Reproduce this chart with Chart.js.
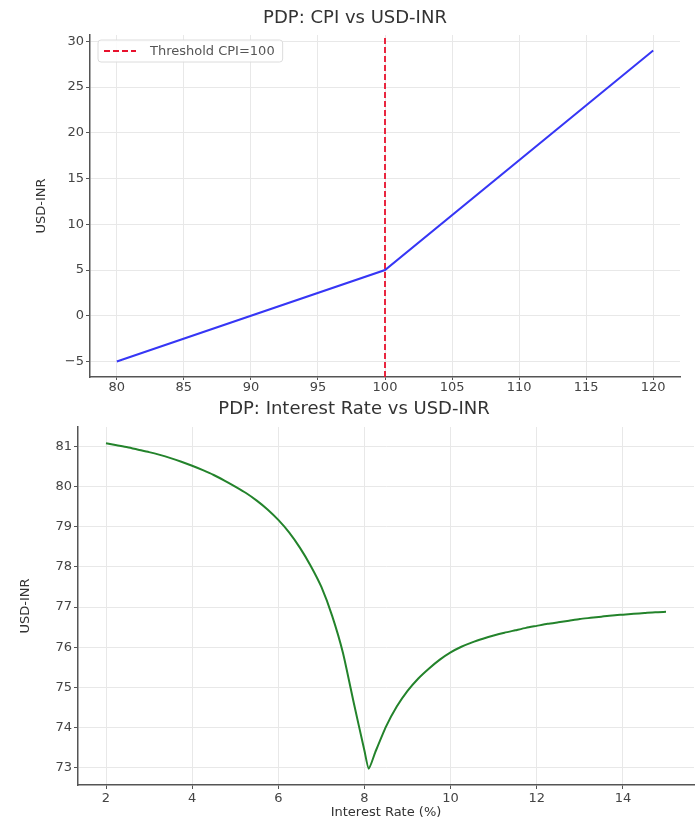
<!DOCTYPE html>
<html>
<head>
<meta charset="utf-8">
<script src="https://cdn.jsdelivr.net/npm/chart.js@4/dist/chart.umd.min.js"></script>
<style>
html,body{margin:0;padding:0;background:#fff;}
#wrap{position:relative;width:699px;height:821px;overflow:hidden;}
#c1{position:absolute;left:0;top:0;}
#c2{position:absolute;left:0;top:398px;}
</style>
</head>
<body>
<div id="wrap">
<canvas id="c1" width="699" height="398"></canvas>
<canvas id="c2" width="699" height="423"></canvas>
</div>
<script>
// ---------- DATA ----------
const cpiValues = [80, 100, 120];
const cpiUsdInr = [-5, 5, 29];
const cpiThreshold = 100;
const cpiXTicks = [80, 85, 90, 95, 100, 105, 110, 115, 120];
const cpiYTicks = [-5, 0, 5, 10, 15, 20, 25, 30];

const rateValues = [2.00, 2.25, 2.50, 2.75, 3.00, 3.25, 3.50, 3.75, 4.00, 4.25, 4.50, 4.75,
  5.00, 5.25, 5.50, 5.75, 6.00, 6.25, 6.50, 6.75, 7.00, 7.25, 7.50, 7.75, 8.00, 8.10,
  8.25, 8.50, 8.75, 9.00, 9.25, 9.50, 9.75, 10.00, 10.25, 10.50, 10.75, 11.00, 11.25,
  11.50, 11.75, 12.00, 12.25, 12.50, 12.75, 13.00, 13.25, 13.50, 13.75, 14.00, 14.25,
  14.50, 14.75, 15.00];
const rateUsdInr = [81.08, 81.03, 80.98, 80.92, 80.86, 80.79, 80.71, 80.62, 80.52, 80.41, 80.29, 80.15,
  80.00, 79.84, 79.65, 79.43, 79.17, 78.86, 78.48, 78.03, 77.50, 76.78, 75.86, 74.62, 73.42, 72.97,
  73.38, 74.02, 74.52, 74.91, 75.22, 75.47, 75.69, 75.87, 76.01, 76.12, 76.21, 76.29, 76.36,
  76.42, 76.48, 76.53, 76.58, 76.62, 76.66, 76.70, 76.73, 76.76, 76.79, 76.81, 76.83,
  76.85, 76.87, 76.88];
const rateXTicks = [2, 4, 6, 8, 10, 12, 14];
const rateYTicks = [73, 74, 75, 76, 77, 78, 79, 80, 81];

// ---------- HELPERS ----------
const FONT = "'DejaVu Sans', 'Liberation Sans', sans-serif";
function limits(arr) {
  const mn = Math.min(...arr), mx = Math.max(...arr), m = (mx - mn) * 0.05;
  return [mn - m, mx + m];
}
function axis(lim, ticks, extra) {
  return Object.assign({
    type: 'linear',
    min: lim[0], max: lim[1],
    afterBuildTicks: s => { s.ticks = ticks.map(v => ({ value: v })); },
    ticks: {
      font: { family: FONT, size: 13 }, color: '#444', autoSkip: false, maxRotation: 0, padding: 2,
      callback: v => String(v).replace('-', '\u2212')
    },
    grid: { color: '#e8e8e8', lineWidth: 1, tickColor: '#555', tickLength: 4 },
    border: { color: '#555', width: 1.5 }
  }, extra);
}

const boxLegend = {
  id: 'boxLegend',
  afterDatasetsDraw(chart) {
    const ds = chart.data.datasets[1];
    if (!ds) return;
    const ctx = chart.ctx, a = chart.chartArea;
    ctx.save();
    ctx.font = "13px " + FONT;
    const tw = ctx.measureText(ds.label).width;
    const x = a.left + 8, y = a.top + 5, h = 22, w = 52 + tw + 8;
    ctx.beginPath();
    ctx.roundRect(x, y, w, h, 3);
    ctx.fillStyle = 'rgba(255,255,255,0.85)';
    ctx.fill();
    ctx.strokeStyle = '#dcdcdc';
    ctx.lineWidth = 1;
    ctx.stroke();
    ctx.beginPath();
    ctx.setLineDash(ds.borderDash);
    ctx.strokeStyle = ds.borderColor;
    ctx.lineWidth = ds.borderWidth;
    ctx.moveTo(x + 6, y + h / 2);
    ctx.lineTo(x + 38, y + h / 2);
    ctx.stroke();
    ctx.setLineDash([]);
    ctx.fillStyle = '#555';
    ctx.textBaseline = 'middle';
    ctx.fillText(ds.label, x + 52, y + h / 2 + 0.5);
    ctx.restore();
  }
};

// ---------- CHART 1 ----------
const cpiXLim = limits(cpiValues);
const cpiYLim = limits(cpiUsdInr);
const xTop = axis(cpiXLim, cpiXTicks, { afterFit: s => { s.height = 21; } });
xTop.ticks.padding = 0;
xTop.grid.tickLength = 3;
new Chart(document.getElementById('c1'), {
  type: 'line',
  data: {
    datasets: [
      {
        label: 'PDP',
        data: cpiValues.map((x, i) => ({ x: x, y: cpiUsdInr[i] })),
        borderColor: '#3636f5', borderWidth: 2, pointRadius: 0, tension: 0, fill: false
      },
      {
        label: 'Threshold CPI=' + cpiThreshold,
        data: [{ x: cpiThreshold, y: cpiYLim[0] }, { x: cpiThreshold, y: cpiYLim[1] }],
        borderColor: '#e8112d', borderWidth: 1.8, borderDash: [6, 3], pointRadius: 0, fill: false
      }
    ]
  },
  options: {
    responsive: false, animation: false,
    layout: { padding: { left: 30, right: 19, top: 0, bottom: 0 } },
    plugins: {
      legend: { display: false }, tooltip: { enabled: false },
      title: {
        display: true, text: 'PDP: CPI vs USD-INR', color: '#333',
        font: { family: FONT, size: 18, weight: 'normal' }, padding: { top: 8, bottom: 5.4 }
      }
    },
    scales: {
      x: xTop,
      y: axis(cpiYLim, cpiYTicks, {
        afterFit: s => { s.width = 60; },
        title: { display: true, text: 'USD-INR', color: '#333', font: { family: FONT, size: 13 }, padding: { top: 4, bottom: 0 } }
      })
    }
  },
  plugins: [boxLegend]
});

// ---------- CHART 2 ----------
const rateXLim = limits(rateValues);
const rateYLim = limits(rateUsdInr);
new Chart(document.getElementById('c2'), {
  type: 'line',
  data: {
    datasets: [
      {
        label: 'PDP',
        data: rateValues.map((x, i) => ({ x: x, y: rateUsdInr[i] })),
        borderColor: '#23832b', borderWidth: 2, pointRadius: 0, tension: 0.2, fill: false
      }
    ]
  },
  options: {
    responsive: false, animation: false,
    layout: { padding: { left: 14, right: 5, top: 0, bottom: 0 } },
    plugins: {
      legend: { display: false }, tooltip: { enabled: false },
      title: {
        display: true, text: 'PDP: Interest Rate vs USD-INR', color: '#333',
        font: { family: FONT, size: 18, weight: 'normal' }, padding: { top: 1, bottom: 6.4 }
      }
    },
    scales: {
      x: axis(rateXLim, rateXTicks, {
        afterFit: s => { s.height = 36; },
        title: { display: true, text: 'Interest Rate (%)', color: '#333', font: { family: FONT, size: 13 }, padding: { top: 0, bottom: 1 } }
      }),
      y: axis(rateYLim, rateYTicks, {
        afterFit: s => { s.width = 64; },
        title: { display: true, text: 'USD-INR', color: '#333', font: { family: FONT, size: 13 }, padding: { top: 4, bottom: 0 } }
      })
    }
  }
});
</script>
</body>
</html>
